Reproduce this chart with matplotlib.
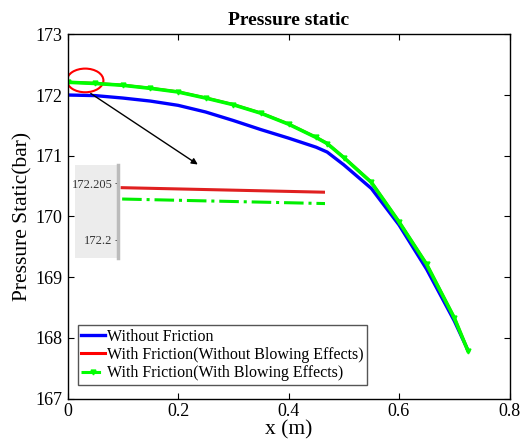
import matplotlib
matplotlib.use("Agg")
import matplotlib.pyplot as plt
from matplotlib.patches import Ellipse, Rectangle
from matplotlib.lines import Line2D

plt.rcParams['font.family'] = ['Liberation Serif', 'DejaVu Serif']
plt.rcParams['mathtext.fontset'] = 'stix'

# ---- data ----
x_pos = [0.0, 0.05, 0.1, 0.15, 0.2, 0.25, 0.3, 0.35, 0.4, 0.45, 0.47, 0.5, 0.55, 0.6, 0.65, 0.7, 0.725]
p_no_friction = [172.00, 171.99, 171.95, 171.90, 171.83, 171.72, 171.58, 171.43, 171.29, 171.14, 171.06,
                 170.85, 170.46, 169.86, 169.13, 168.28, 167.79]
p_friction_no_blow = [172.212, 172.193, 172.163, 172.113, 172.053, 171.953, 171.843, 171.703, 171.523, 171.303,
                      171.203, 170.973, 170.563, 169.913, 169.213, 168.333, 167.783]
p_friction_blow = [172.21, 172.19, 172.16, 172.11, 172.05, 171.95, 171.84, 171.70, 171.52, 171.30, 171.20,
                   170.97, 170.56, 169.91, 169.21, 168.33, 167.78]

# inset (zoomed view) values
inset_x = [0.02, 1.0]
inset_red = [172.2046, 172.2042]
inset_green = [172.2036, 172.2032]
inset_ticks = [172.2, 172.205]
inset_ticklabels = ['172.2', '172.205']

labels = ['Without Friction', 'With Friction(Without Blowing Effects)', 'With Friction(With Blowing Effects)']
x_ticks = [0, 0.2, 0.4, 0.6, 0.8]
x_ticklabels = ['0', '0.2', '0.4', '0.6', '0.8']
y_ticks = [167, 168, 169, 170, 171, 172, 173]

W, H = 526, 446
fig = plt.figure(figsize=(W / 100, H / 100), dpi=100)

def fx(px):
    return px / W

def fy(py):
    return 1 - py / H

ax = fig.add_axes([fx(67.5), fy(398.5), fx(509.5) - fx(67.5), fy(34.3) - fy(398.5)])

ax.plot(x_pos, p_no_friction, color='#0000ff', lw=2.4)
ax.plot(x_pos, p_friction_no_blow, color='#ff0000', lw=2.0)
ax.plot(x_pos, p_friction_blow, color='#00ff00', lw=2.6, ls='-', marker='v', markersize=3.5)

handles = [Line2D([], [], color='#0000ff', lw=2.4),
           Line2D([], [], color='#ff0000', lw=2.2),
           Line2D([], [], color='#00ff00', lw=2.2, ls='-.', marker='v', markersize=3.5)]

ax.set_xlim(0, 0.8)
ax.set_ylim(167, 173)
ax.set_xticks(x_ticks)
ax.set_xticklabels(x_ticklabels)
ax.set_yticks(y_ticks)
ax.tick_params(direction='in', top=True, right=True, labelsize=13, length=4, width=0.8)
for s in ax.spines.values():
    s.set_linewidth(1.0)

ax.set_xlabel('x (m)', fontsize=15.5, labelpad=0)
ax.set_ylabel('Pressure Static(bar)', fontsize=15.5, labelpad=2)
ax.set_title('Pressure static', fontsize=14, fontweight='bold', pad=7)

leg = ax.legend(handles, labels, loc='lower left', bbox_to_anchor=(0.012, 0.025), fontsize=11.5,
                handlelength=1.5, handletextpad=0.15, borderpad=0.2, labelspacing=0.15, borderaxespad=0.3,
                fancybox=False, framealpha=1, edgecolor='#555555')
leg.get_frame().set_linewidth(1.0)

# highlight ellipse and arrow
ax.add_patch(Ellipse((0.032, 172.24), 0.066, 0.39, fill=False, edgecolor='red', lw=1.5))
ax.annotate('', xy=(0.24, 170.83), xytext=(0.038, 172.05),
            arrowprops=dict(arrowstyle='-|>', color='black', lw=1.0, mutation_scale=9))

# inset zoom
bg = Rectangle((fx(75), fy(258)), fx(117) - fx(75), fy(165) - fy(258),
               transform=fig.transFigure, facecolor='#ececec', edgecolor='none', zorder=5)
ax.add_artist(bg)
iax = fig.add_axes([fx(118), fy(258), fx(325) - fx(118), fy(165) - fy(258)], zorder=3)
iax.patch.set_alpha(0)
iax.plot(inset_x, inset_red, color='#e02020', lw=2.2)
iax.plot(inset_x, inset_green, color='#00ee00', lw=2.2, ls='-.')
iax.set_xlim(0, 1)
iax.set_ylim(172.1984, 172.2066)
iax.set_xticks([])
iax.set_yticks(inset_ticks)
iax.set_yticklabels(inset_ticklabels, fontsize=9)
iax.tick_params(axis='y', direction='out', length=2, width=0.6, pad=2, colors='#333333')
for k in ['top', 'right', 'bottom']:
    iax.spines[k].set_visible(False)
iax.spines['left'].set_color('#bbbbbb')
iax.spines['left'].set_linewidth(2.5)

fig.savefig('out.png', dpi=100)
